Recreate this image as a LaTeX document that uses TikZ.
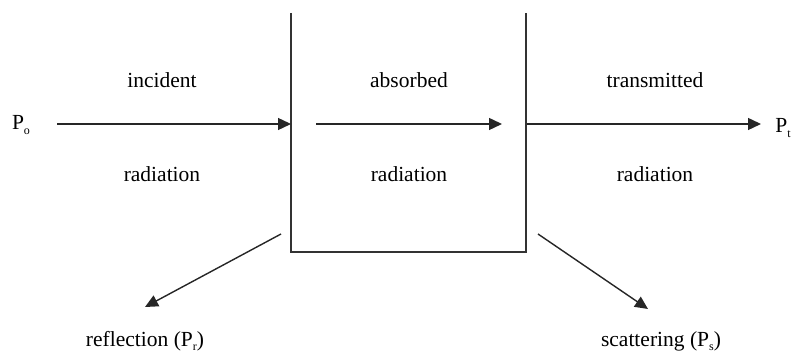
\documentclass[tikz,border=0pt]{standalone}
\usepackage{fontspec}
\setmainfont{Liberation Serif}
\usetikzlibrary{arrows.meta}
% small, low subscript used for the power symbols
\newcommand{\lowsub}[1]{\raisebox{-0.45ex}{\fontsize{12}{14}\selectfont #1}}
\begin{document}
\begin{tikzpicture}[x=1pt,y=-1pt,
  lbl/.style={font=\fontsize{21.5}{25}\selectfont, inner sep=0pt},
  flow/.style={line width=1.4pt, draw=black!85, -{Triangle[length=13pt,width=12pt]}},
  wall/.style={line width=1.3pt, draw=black!80}]
\useasboundingbox (0,0) rectangle (793,352);
% open-topped sample cell
\coordinate (tl) at (291,13);
\coordinate (bl) at (291,252);
\coordinate (br) at (526,252);
\coordinate (tr) at (526,13);
\draw[wall] (tl) -- (bl) -- (br) -- (tr);
% labels
\node[lbl] (Po) at (21,125) {P\lowsub{o}};
\node[lbl] (Pt) at (783,128) {P\lowsub{t}};
\node[lbl] (inc) at (162,80) {incident};
\node[lbl] (incr) at (162,174) {radiation};
\node[lbl] (abs) at (409,80) {absorbed};
\node[lbl] (absr) at (409,174) {radiation};
\node[lbl] (tra) at (655,80) {transmitted};
\node[lbl] (trar) at (655,174) {radiation};
\node[lbl] (refl) at (145,341) {reflection (P\lowsub{r})};
\node[lbl] (scat) at (661,341) {scattering (P\lowsub{s})};
% beam path
\coordinate (a0) at (57,124);
\coordinate (a1) at (291,124);
\coordinate (b0) at (316,124);
\coordinate (b1) at (502,124);
\coordinate (c0) at (527,124);
\coordinate (c1) at (761,124);
\draw[flow] (a0) -- (a1);
\draw[flow] (b0) -- (b1);
\draw[flow] (c0) -- (c1);
% losses
\coordinate (r0) at (281,234);
\coordinate (r1) at (145,307);
\coordinate (s0) at (538,234);
\coordinate (s1) at (648,309);
\draw[flow] (r0) -- (r1);
\draw[flow] (s0) -- (s1);
\end{tikzpicture}
\end{document}
